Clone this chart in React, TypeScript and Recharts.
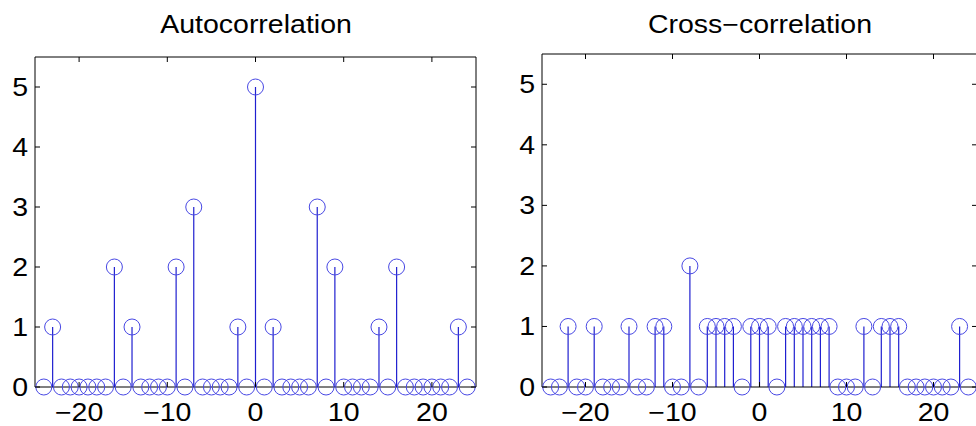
import React from 'react';
import { ComposedChart, XAxis, YAxis, Scatter, ErrorBar } from 'recharts';

// ---- data ----
const LAGS = [
  -24, -23, -22, -21, -20, -19, -18, -17, -16, -15, -14, -13, -12, -11, -10, -9, -8,
  -7, -6, -5, -4, -3, -2, -1, 0, 1, 2, 3, 4, 5, 6, 7, 8, 9, 10, 11, 12, 13, 14, 15,
  16, 17, 18, 19, 20, 21, 22, 23, 24,
];
const AUTO_VALUES = [
  0, 1, 0, 0, 0, 0, 0, 0, 2, 0, 1, 0, 0, 0, 0, 2, 0,
  3, 0, 0, 0, 0, 1, 0, 5, 0, 1, 0, 0, 0, 0, 3, 0, 2, 0, 0, 0, 0, 1, 0,
  2, 0, 0, 0, 0, 0, 0, 1, 0,
];
const CROSS_VALUES = [
  0, 0, 1, 0, 0, 1, 0, 0, 0, 1, 0, 0, 1, 1, 0, 0, 2,
  0, 1, 1, 1, 1, 0, 1, 1, 1, 0, 1, 1, 1, 1, 1, 1, 0, 0, 0, 1, 0, 1, 1,
  1, 0, 0, 0, 0, 0, 0, 1, 0,
];
const X_TICKS = [-20, -10, 0, 10, 20];
const Y_TICKS = [0, 1, 2, 3, 4, 5];
const X_DOMAIN: [number, number] = [-25, 25];
const Y_DOMAIN: [number, number] = [0, 5.5];
const TITLES = ['Autocorrelation', 'Cross\u2212correlation'];

// ---- style ----
const FONT = '"Liberation Sans", Arial, Helvetica, sans-serif';
const FONT_SIZE = 25;
const SCALE_X = 1.14;
const STEM = '#2020d0';
const RING = '#4848e4';
const FRAME = '#000000';
const TICK_LEN = 5;

const fmt = (v: number) => (v < 0 ? '\u2212' + Math.abs(v) : String(v));

const BottomTick = (props: any) => {
  const { x, y, payload } = props;
  return (
    <g>
      <line x1={x} x2={x} y1={y} y2={y - TICK_LEN} stroke={FRAME} strokeWidth={1} />
      <text
        x={0}
        y={0}
        transform={`translate(${x},${y + 34}) scale(${SCALE_X},1)`}
        textAnchor="middle"
        fontSize={FONT_SIZE}
        fontFamily={FONT}
        fill="#000"
      >
        {fmt(payload.value)}
      </text>
    </g>
  );
};

const LeftTick = (props: any) => {
  const { x, y, payload } = props;
  return (
    <g>
      <line x1={x} x2={x + TICK_LEN} y1={y} y2={y} stroke={FRAME} strokeWidth={1} />
      <text
        x={0}
        y={0}
        transform={`translate(${x - 7},${y + 9}) scale(${SCALE_X},1)`}
        textAnchor="end"
        fontSize={FONT_SIZE}
        fontFamily={FONT}
        fill="#000"
      >
        {fmt(payload.value)}
      </text>
    </g>
  );
};

const TopTick = (props: any) => {
  const { x, y } = props;
  return <line x1={x} x2={x} y1={y} y2={y + TICK_LEN} stroke={FRAME} strokeWidth={1} />;
};

const RightTick = (props: any) => {
  const { x, y } = props;
  return <line x1={x} x2={x - TICK_LEN} y1={y} y2={y} stroke={FRAME} strokeWidth={1} />;
};

const Ring = (props: any) => {
  const { cx, cy } = props;
  if (cx == null || cy == null) return <g />;
  return <circle cx={cx} cy={cy} r={8} fill="none" stroke={RING} strokeWidth={1} />;
};

const Nothing = () => <g />;

type PanelProps = {
  values: number[];
  title: string;
  left: number;
  width: number;
  top: number;
  right: number;
  yAxisWidth: number;
};

const Panel = ({ values, title, left, width, top, right, yAxisWidth }: PanelProps) => {
  const rows = LAGS.map((lag, i) => ({ lag, v: values[i], stem: [values[i], 0] }));
  const plotLeft = left + yAxisWidth;
  const plotWidth = width - yAxisWidth - right;
  return (
    <>
      <div
        style={{
          position: 'absolute',
          left: plotLeft,
          top: 12,
          width: plotWidth,
          textAlign: 'center',
          fontFamily: FONT,
          fontSize: FONT_SIZE,
          lineHeight: `${FONT_SIZE}px`,
          color: '#000',
          transform: `scaleX(${SCALE_X})`,
          transformOrigin: 'center',
          whiteSpace: 'nowrap',
        }}
      >
        {title}
      </div>
      <div style={{ position: 'absolute', left, top: 0, width, height: 426 }}>
        <ComposedChart
          width={width}
          height={426}
          data={rows}
          margin={{ top, right, bottom: 0, left: 0 }}
        >
          <XAxis
            xAxisId="b"
            dataKey="lag"
            type="number"
            orientation="bottom"
            domain={X_DOMAIN}
            ticks={X_TICKS}
            interval={0}
            height={39}
            tickLine={false}
            tickSize={0}
            tickMargin={0}
            axisLine={{ stroke: FRAME, strokeWidth: 1 }}
            tick={BottomTick}
          />
          <XAxis
            xAxisId="t"
            dataKey="lag"
            type="number"
            orientation="top"
            domain={X_DOMAIN}
            ticks={X_TICKS}
            interval={0}
            height={1}
            tickLine={false}
            tickSize={0}
            tickMargin={0}
            axisLine={{ stroke: FRAME, strokeWidth: 1 }}
            tick={TopTick}
          />
          <YAxis
            yAxisId="l"
            dataKey="v"
            type="number"
            orientation="left"
            domain={Y_DOMAIN}
            ticks={Y_TICKS}
            interval={0}
            width={yAxisWidth}
            tickLine={false}
            tickSize={0}
            tickMargin={0}
            axisLine={{ stroke: FRAME, strokeWidth: 1 }}
            tick={LeftTick}
          />
          <YAxis
            yAxisId="r"
            dataKey="v"
            type="number"
            orientation="right"
            domain={Y_DOMAIN}
            ticks={Y_TICKS}
            interval={0}
            width={1}
            tickLine={false}
            tickSize={0}
            tickMargin={0}
            axisLine={{ stroke: FRAME, strokeWidth: 1 }}
            tick={RightTick}
          />
          <Scatter
            xAxisId="t"
            yAxisId="r"
            dataKey="v"
            shape={Nothing}
            isAnimationActive={false}
          />
          <Scatter
            xAxisId="b"
            yAxisId="l"
            dataKey="v"
            shape={Ring}
            isAnimationActive={false}
          >
            <ErrorBar
              dataKey="stem"
              direction="y"
              width={0}
              stroke={STEM}
              strokeWidth={1.2}
              isAnimationActive={false}
            />
          </Scatter>
        </ComposedChart>
      </div>
    </>
  );
};

export default function App() {
  return (
    <div
      style={{
        position: 'absolute',
        left: 0,
        top: 0,
        width: 976,
        height: 426,
        overflow: 'hidden',
        background: '#fff',
      }}
    >
      <style>{`.recharts-errorBar line { stroke: ${STEM}; stroke-width: 1.2px; }`}</style>
      <Panel values={AUTO_VALUES} title={TITLES[0]} left={0} width={488} top={56} right={11} yAxisWidth={35} />
      <Panel values={CROSS_VALUES} title={TITLES[1]} left={488} width={492} top={53} right={2} yAxisWidth={54} />
    </div>
  );
}
